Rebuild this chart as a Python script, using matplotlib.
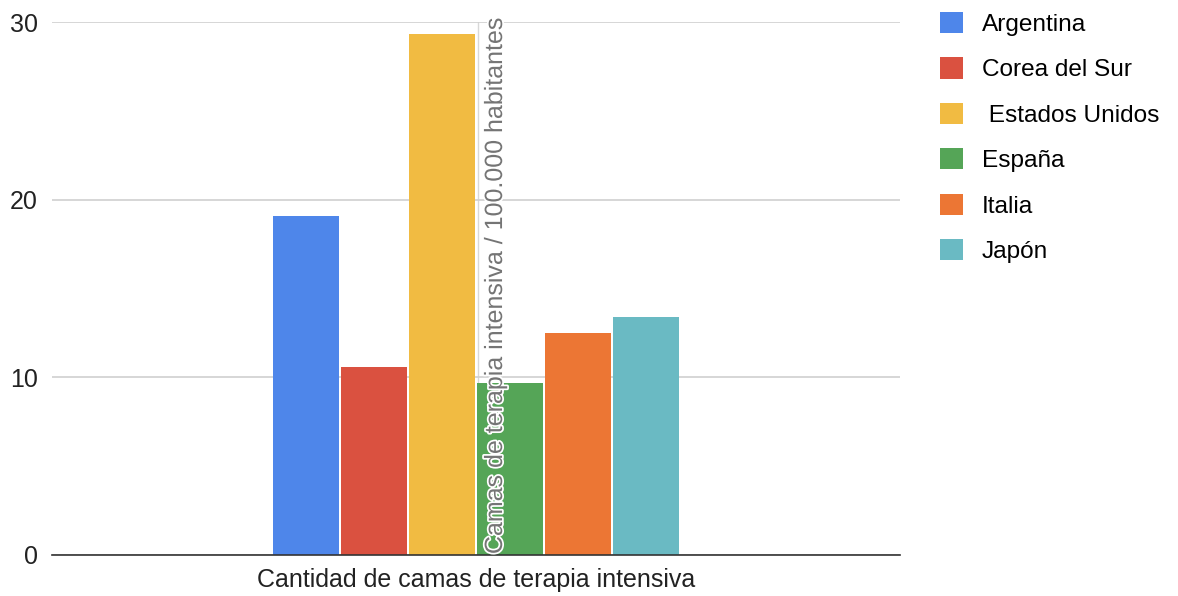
import numpy as np
import matplotlib
matplotlib.use("Agg")
import matplotlib.pyplot as plt
import matplotlib.patheffects as pe

# Camas de terapia intensiva cada 100.000 habitantes
paises = ["Argentina", "Corea del Sur", " Estados Unidos", "España", "Italia", "Japón"]
camas = [19.1, 10.6, 29.3, 9.7, 12.5, 13.4]
colores = ["#4E86EA", "#DA5140", "#F1BB42", "#55A557", "#EC7634", "#6ABAC3"]
categoria = "Cantidad de camas de terapia intensiva"
ylabel = "Camas de terapia intensiva / 100.000 habitantes"
yticks = [0, 10, 20, 30]

plt.rcParams['font.family'] = ['Liberation Sans', 'DejaVu Sans']

fig = plt.figure(figsize=(11.78, 5.96), dpi=100)
ax = fig.add_axes([52/1178, 1 - 555/596, 848/1178, 533/596])

n = len(paises)
pos = np.arange(n) - (n - 1) / 2
for p, v, c, lab in zip(pos, camas, colores, paises):
    ax.bar(p, v, width=0.97, color=c, label=lab, zorder=2)

ax.set_xlim(-6.24, 6.24)
ax.set_ylim(0, 30)
ax.set_yticks(yticks)
ax.set_xticks([0])
ax.set_xticklabels([categoria], fontsize=18)
ax.tick_params(axis='both', length=0, labelsize=18, colors='#222222')
ax.tick_params(axis='y', pad=10)
ax.tick_params(axis='x', pad=9)
ax.grid(axis='y', color='#D0D0D0', linewidth=1.2, zorder=0)
for s in ['top', 'right', 'left']:
    ax.spines[s].set_visible(False)
ax.spines['bottom'].set_color('#333333')
ax.spines['bottom'].set_linewidth(1.2)
ax.spines['bottom'].set_zorder(3)

# separator line and axis title drawn inside the plot (as in the original)
ax.axvline(0.03, ymin=0, ymax=1, color='#D8D8D8', linewidth=1, zorder=1)
t = ax.text(0.28, 0.05, ylabel, rotation=90, ha='center', va='bottom',
            fontsize=18, color='#757575', zorder=4)
t.set_path_effects([pe.withStroke(linewidth=2.5, foreground='white')])

fig.legend(loc='upper left', bbox_to_anchor=(918/1178, 1 + 10/596),
           frameon=False, fontsize=17.6, handlelength=0.95, handleheight=0.95,
           handletextpad=0.75, labelspacing=0.88)

fig.savefig("out.png", dpi=100)
